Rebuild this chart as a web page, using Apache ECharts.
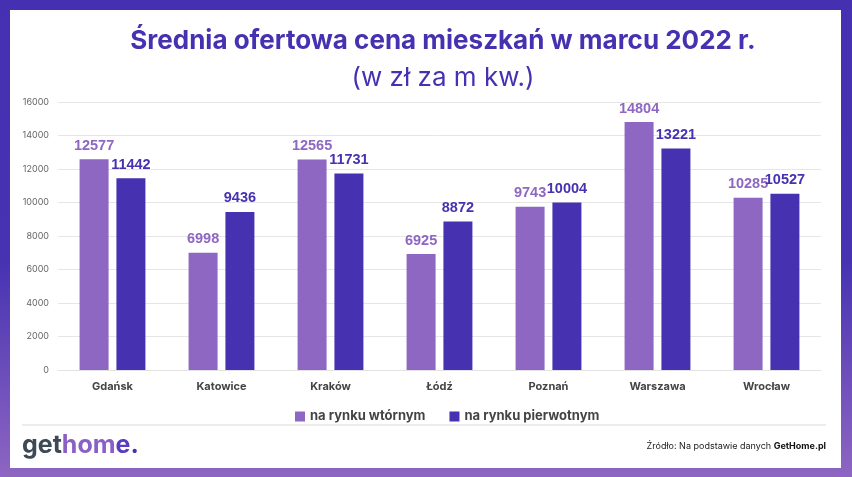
<!DOCTYPE html>
<html>
<head>
<meta charset="utf-8">
<script src="https://cdn.jsdelivr.net/npm/echarts@6/dist/echarts.min.js"></script>
<style>
html,body{margin:0;padding:0;background:#fff;}
#c{width:852px;height:477px;}
</style>
</head>
<body>
<div id="c"></div>
<script>
const categories = ['Gdańsk','Katowice','Kraków','Łódź','Poznań','Warszawa','Wrocław'];
const secondary = [12577, 6998, 12565, 6925, 9743, 14804, 10285];
const primary = [11442, 9436, 11731, 8872, 10004, 13221, 10527];
const seriesNames = ['na rynku wtórnym','na rynku pierwotnym'];
const yTicks = {min:0, max:16000, interval:2000};

const FONT = 'Inter, "Noto Sans", sans-serif';
const NUMF = '"Liberation Sans", Arial, sans-serif';
const LIGHT = '#8d67c2';
const DARK = '#4632b1';

const chart = echarts.init(document.getElementById('c'), null, {renderer:'canvas'});
chart.setOption({
  animation:false,
  backgroundColor:'#fff',
  graphic:[
    {type:'rect', z:-10, shape:{x:0,y:0,width:852,height:477},
     style:{fill:new echarts.graphic.LinearGradient(0,0,0,1,[
       {offset:0,color:'#4430b0'},{offset:0.55,color:'#4733b2'},{offset:1,color:'#8e66c2'}])}},
    {type:'rect', z:-9, shape:{x:10,y:10,width:831,height:458}, style:{fill:'#fff'}},
    {type:'line', z:-8, shape:{x1:22,y1:425,x2:826,y2:425}, style:{stroke:'#d9d9d9',lineWidth:1}},
    {type:'text', left:22, top:433, style:{
      text:'{g|get}{h|hom}{e|e}{d|.}',
      rich:{
        g:{fill:'#3d4a56', font:'bold 25px '+FONT},
        h:{fill:'#8a5fc6', font:'bold 25px '+FONT},
        e:{fill:'#5a3cc0', font:'bold 25px '+FONT},
        d:{fill:'#4632b1', font:'bold 25px '+FONT}
      }}},
    {type:'text', right:26, top:442, style:{
      text:'{n|Źródło: Na podstawie danych }{b|GetHome.pl}',
      rich:{
        n:{fill:'#222', font:'9px '+FONT},
        b:{fill:'#111', font:'bold 9px '+FONT}
      }}}
  ],
  title:[
    {text:'Średnia ofertowa cena mieszkań w marcu 2022 r.', left:438, textAlign:'center', top:23,
     textStyle:{color:'#4632b1', fontFamily:FONT, fontWeight:'bold', fontSize:26}},
    {text:'(w zł za m kw.)', left:438, textAlign:'center', top:60,
     textStyle:{color:'#4632b1', fontFamily:FONT, fontWeight:'normal', fontSize:26}}
  ],
  legend:{
    top:405, left:290, itemWidth:10, itemHeight:10, itemGap:24,
    icon:'rect',
    textStyle:{fontFamily:FONT, fontWeight:'bold', fontSize:13, color:'#444'},
    data:seriesNames
  },
  grid:{left:58, right:31, top:102, bottom:107},
  xAxis:{
    type:'category', data:categories,
    axisLine:{show:true, lineStyle:{color:'#e3e3e3'}},
    axisTick:{show:false},
    axisLabel:{fontFamily:FONT, fontWeight:'bold', fontSize:11, color:'#444', margin:11}
  },
  yAxis:{
    type:'value', min:yTicks.min, max:yTicks.max, interval:yTicks.interval,
    axisLine:{show:false}, axisTick:{show:false},
    splitLine:{lineStyle:{color:'#e6e6e6'}},
    axisLabel:{fontFamily:FONT, fontSize:9, color:'#666', margin:9, formatter:v => String(v)}
  },
  series:[
    {name:seriesNames[0], type:'bar', data:secondary, barWidth:29, barGap:'27%',
     itemStyle:{color:LIGHT},
     label:{show:true, position:'top', distance:6, color:LIGHT, fontFamily:NUMF, fontWeight:'bold', fontSize:14.5}},
    {name:seriesNames[1], type:'bar', data:primary, barWidth:29,
     itemStyle:{color:DARK},
     label:{show:true, position:'top', distance:6, color:DARK, fontFamily:NUMF, fontWeight:'bold', fontSize:14.5}}
  ]
});
</script>
</body>
</html>
